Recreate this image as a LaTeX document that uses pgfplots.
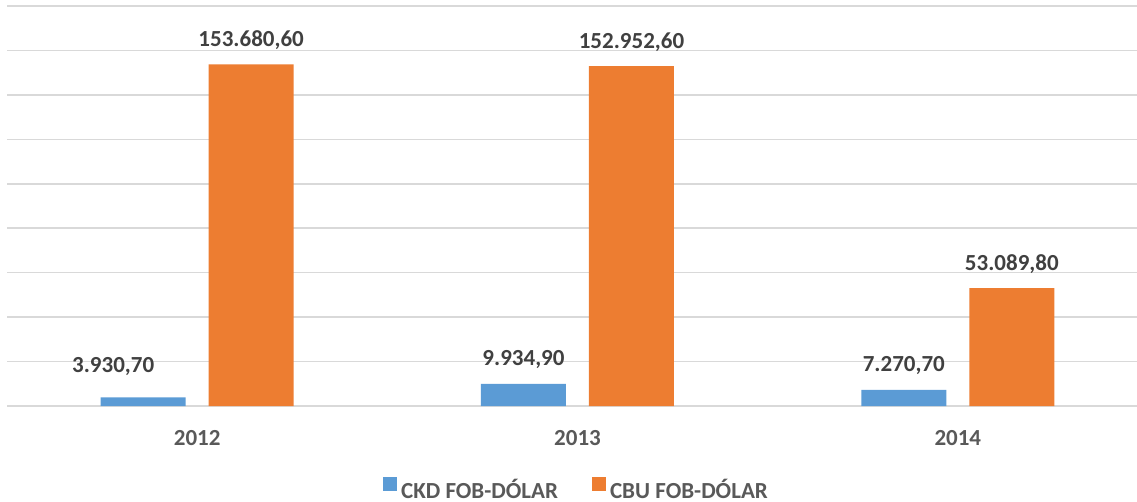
\documentclass[border=0pt]{standalone}
\usepackage{fontspec}
\setmainfont{Carlito}
\usepackage{pgfplots}
\pgfplotsset{compat=1.18}
\usepackage{pgfplotstable}
\definecolor{ckd}{HTML}{5B9BD5}
\definecolor{cbu}{HTML}{ED7D31}
\definecolor{lbl}{HTML}{404040}
\definecolor{tck}{HTML}{595959}
\definecolor{grd}{HTML}{D9D9D9}
\newcommand{\chfont}{\bfseries\fontsize{23}{27}\selectfont}
\pgfplotsset{sqleg/.style={legend image code/.code={\fill[##1] (0pt,-1pt) rectangle (14pt,13pt);}}}

\pgfplotstableread{
x y dx dy label
0 3930.7 -30 25 {3.930,70}
1 9934.9 0 18 {9.934,90}
2 7270.7 0 18 {7.270,70}
}\ckdtab
\pgfplotstableread{
x y dx dy label
0 153680.6 0 18 {153.680,60}
1 152952.6 0 18 {152.952,60}
2 53089.8 0 18 {53.089,80}
}\cbutab

\begin{document}
\begin{tikzpicture}
\begin{axis}[
  at={(0,0)}, anchor=south west,
  scale only axis, width=1141pt, height=400pt,
  ybar=23pt, bar width=85pt,
  xmin=-0.5, xmax=2.5, ymin=0, ymax=180000,
  xtick={0,1,2}, xticklabels={2012,2013,2014},
  ytick={0,20000,...,180000}, yticklabel={\relax},
  ymajorgrids, grid style={grd, line width=1.6pt},
  axis line style={draw=none},
  major tick length=0pt,
  clip=false,
  xticklabel style={font=\chfont, text=tck, anchor=base, inner sep=0pt, yshift=-39pt},
  nodes near coords,
  point meta=explicit symbolic,
  visualization depends on={\thisrow{dx} \as \dx},
  visualization depends on={\thisrow{dy} \as \dy},
  nodes near coords style={font=\chfont, text=lbl, anchor=base, inner sep=0pt, xshift=\dx pt, yshift=\dy pt},
  legend columns=2,
  sqleg,
  legend style={draw=none, fill=none, font=\chfont, text=tck,
    at={(0.5,0)}, anchor=base, yshift=-84pt,
    /tikz/every even column/.append style={column sep=30pt},
    nodes={inner ysep=1pt, inner xsep=4pt}},
]
\addplot[fill=ckd, draw=none] table[x=x, y=y, meta=label] {\ckdtab};
\addlegendentry{CKD FOB-DÓLAR}
\addplot[fill=cbu, draw=none] table[x=x, y=y, meta=label] {\cbutab};
\addlegendentry{CBU FOB-DÓLAR}
\end{axis}
\pgfresetboundingbox
\useasboundingbox (-7pt,-95pt) rectangle (1130pt,406pt);
\end{tikzpicture}
\end{document}
